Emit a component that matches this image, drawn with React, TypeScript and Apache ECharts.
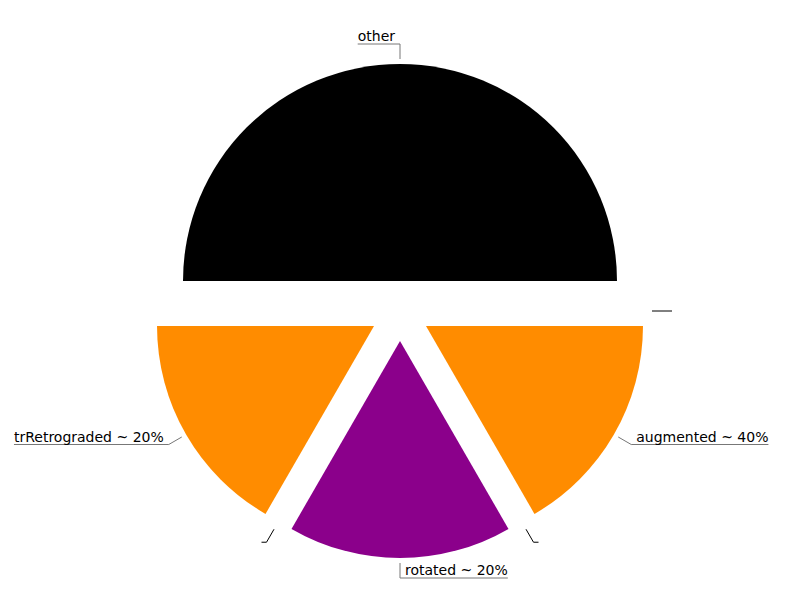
import React, { useEffect, useRef } from 'react';
import * as echarts from 'echarts';

const names = ['other', '', 'augmented ~ 40%', '', 'rotated ~ 20%', '', 'trRetrograded ~ 20%'];
const values = [3, 0, 1, 0, 1, 0, 1];
const colors = ['#000000', '#000000', '#FF8C00', '#000000', '#8B008B', '#000000', '#FF8C00'];

export default function App() {
  const ref = useRef<HTMLDivElement>(null);
  useEffect(() => {
    if (!ref.current) return;
    const chart = echarts.init(ref.current, undefined, { renderer: 'svg' });
    const width = 800;
    const gap = 5;
    chart.setOption({
      animation: false,
      backgroundColor: '#ffffff',
      series: [
        {
          type: 'pie',
          center: [400, 311],
          radius: 217,
          startAngle: 180,
          clockwise: true,
          selectedMode: 'multiple',
          selectedOffset: 30,
          avoidLabelOverlap: false,
          emphasis: { disabled: true },
          label: {
            show: true,
            formatter: '{b}',
            fontSize: 14,
            color: '#000',
            fontFamily: 'DejaVu Sans',
          },
          labelLine: {
            show: true,
            length: 15,
            length2: 0,
            lineStyle: { color: '#777', width: 1 },
          },
          labelLayout: (params: any) => {
            const isLeft = params.labelRect.x < width / 2;
            const points = params.labelLinePoints;
            let ux = 0;
            let uy = 0;
            if (points) {
              const vx = points[1][0] - points[0][0];
              const vy = points[1][1] - points[0][1];
              const len = Math.sqrt(vx * vx + vy * vy) || 1;
              ux = (vx / len) * gap;
              uy = (vy / len) * gap;
              for (const p of points) {
                p[0] += ux;
                p[1] += uy;
              }
              points[2][0] = (isLeft ? params.labelRect.x : params.labelRect.x + params.labelRect.width) + ux;
            }
            return { labelLinePoints: points, dx: ux, dy: uy - 8 };
          },
          data: names.map((n, i) => ({
            name: n,
            value: values[i],
            selected: true,
            itemStyle: { color: colors[i] },
            labelLine: n ? undefined : { lineStyle: { color: '#000' } },
          })),
        },
      ],
    });
    return () => chart.dispose();
  }, []);
  return (
    <div
      ref={ref}
      style={{ position: 'fixed', left: 0, top: 0, width: 800, height: 600 }}
    />
  );
}
